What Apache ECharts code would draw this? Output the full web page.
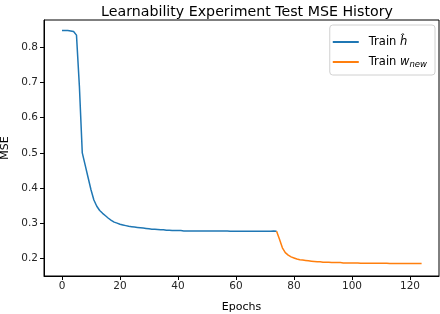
<!DOCTYPE html>
<html>
<head>
<meta charset="utf-8">
<script src="https://cdn.jsdelivr.net/npm/echarts@6/dist/echarts.min.js"></script>
<style>html,body{margin:0;padding:0;background:#fff}#c{width:440px;height:314px}</style>
</head>
<body>
<div id="c"></div>
<script>
// ---- data ----
const titleText = 'Learnability Experiment Test MSE History';
const xTicks = [0, 20, 40, 60, 80, 100, 120];
const yTicks = [0.2, 0.3, 0.4, 0.5, 0.6, 0.7, 0.8];
const blueStart = 0;
const blueMSE = [
  0.848, 0.848, 0.848, 0.847, 0.845, 0.835, 0.690, 0.500, 0.465, 0.430,
  0.395, 0.366, 0.348, 0.336, 0.328, 0.321, 0.314, 0.308, 0.303, 0.300,
  0.297, 0.295, 0.293, 0.291, 0.290, 0.289, 0.288, 0.287, 0.286, 0.285,
  0.284, 0.283, 0.283, 0.282, 0.281, 0.281, 0.280, 0.280, 0.279, 0.279,
  0.279, 0.279, 0.278, 0.278, 0.278, 0.278, 0.278, 0.278, 0.278, 0.278,
  0.278, 0.278, 0.278, 0.278, 0.278, 0.278, 0.278, 0.278, 0.277, 0.277,
  0.277, 0.277, 0.277, 0.277, 0.277, 0.277, 0.277, 0.277, 0.277, 0.277,
  0.277, 0.277, 0.277, 0.278, 0.277
];
const orangeStart = 74;
const orangeMSE = [
  0.277, 0.254, 0.230, 0.216, 0.209, 0.204, 0.201, 0.198, 0.196, 0.195,
  0.194, 0.193, 0.192, 0.191, 0.190, 0.190, 0.189, 0.189, 0.189, 0.188,
  0.188, 0.188, 0.188, 0.187, 0.187, 0.187, 0.187, 0.187, 0.187, 0.186,
  0.186, 0.186, 0.186, 0.186, 0.186, 0.186, 0.186, 0.186, 0.186, 0.185,
  0.185, 0.185, 0.185, 0.185, 0.185, 0.185, 0.185, 0.185, 0.185, 0.185,
  0.185
];
const seriesNames = ['Train h', 'Train w'];

const toPairs = (start, arr) => arr.map((v, i) => [start + i, v]);

const chart = echarts.init(document.getElementById('c'), null, {renderer: 'canvas'});
const font = 'DejaVu Sans';
const txt = '#262626';
chart.setOption({
  animation: false,
  textStyle: {fontFamily: font},
  title: {
    text: titleText, left: 242, textAlign: 'center', top: 0,
    textStyle: {fontFamily: font, fontSize: 14.2, fontWeight: 'normal', color: '#000'}
  },
  grid: {left: 44, right: 1, top: 20, bottom: 38, show: true, borderColor: '#000', borderWidth: 1,
    backgroundColor: 'transparent', containLabel: false, outerBoundsMode: 'none'},
  legend: {
    right: 5, top: 25, orient: 'vertical', itemWidth: 26, itemHeight: 2, itemGap: 6,
    icon: 'rect',
    backgroundColor: '#fff', borderColor: '#d0d0d0', borderWidth: 1, borderRadius: 3,
    padding: [10, 8, 6, 3],
    textStyle: {fontFamily: font, fontSize: 11.5, color: '#000', lineHeight: 14,
      rich: {
        n: {fontFamily: font, fontSize: 11.5, color: '#000', lineHeight: 14, padding: [0, 0, 0, 5]},
        i: {fontFamily: font, fontSize: 11.5, fontStyle: 'italic', color: '#000', lineHeight: 14},
        s: {fontFamily: font, fontSize: 8.5, fontStyle: 'italic', color: '#000', lineHeight: 14, padding: [5, 0, 0, 0]}
      }
    },
    formatter: function (name) {
      if (name === seriesNames[0]) return '{n|Train }{i|ĥ}';
      return '{n|Train }{i|w}{s|new}';
    },
    data: seriesNames
  },
  xAxis: {
    type: 'value', min: -6.2, max: 130,
    name: 'Epochs', nameLocation: 'middle', nameGap: 26,
    nameTextStyle: {fontFamily: font, fontSize: 11, color: '#000'},
    axisLine: {show: true, onZero: false, lineStyle: {color: '#000', width: 1}},
    axisTick: {show: true, length: 4, customValues: xTicks, lineStyle: {color: '#000'}},
    axisLabel: {customValues: xTicks, fontFamily: font, fontSize: 10.5, color: txt, margin: 5},
    splitLine: {show: false}
  },
  yAxis: {
    type: 'value', min: 0.1497, max: 0.878,
    name: 'MSE', nameLocation: 'middle', nameGap: 27, nameRotate: 90,
    nameTextStyle: {fontFamily: font, fontSize: 11, color: '#000'},
    axisLine: {show: true, onZero: false, lineStyle: {color: '#000', width: 1}},
    axisTick: {show: true, length: 4, customValues: yTicks, lineStyle: {color: '#000'}},
    axisLabel: {customValues: yTicks, fontFamily: font, fontSize: 10.5, color: txt, margin: 6,
      formatter: v => v.toFixed(1)},
    splitLine: {show: false}
  },
  series: [
    {name: seriesNames[0], type: 'line', data: toPairs(blueStart, blueMSE), symbol: 'none',
     lineStyle: {color: '#1f77b4', width: 1.5}, itemStyle: {color: '#1f77b4'}, z: 3},
    {name: seriesNames[1], type: 'line', data: toPairs(orangeStart, orangeMSE), symbol: 'none',
     lineStyle: {color: '#ff7f0e', width: 1.5}, itemStyle: {color: '#ff7f0e'}, z: 3}
  ]
});
</script>
</body>
</html>
